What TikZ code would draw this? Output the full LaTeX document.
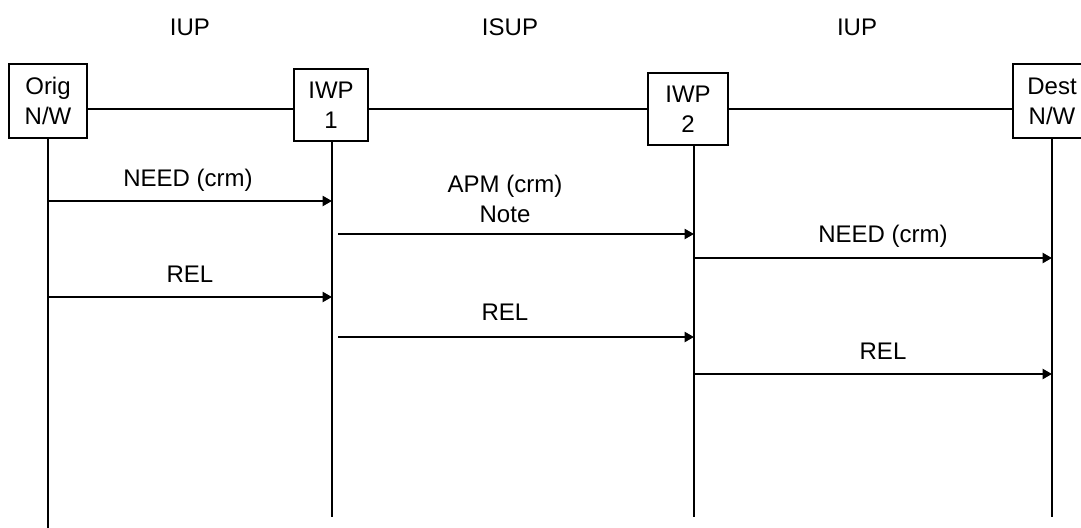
\documentclass[tikz,border=0pt]{standalone}
\usepackage{fontspec}
\setmainfont{Liberation Sans}
\usetikzlibrary{arrows.meta}

\begin{document}
\begin{tikzpicture}[x=0.75pt,y=-0.75pt,>={Triangle[length=7pt,width=7.5pt]},
  font=\fontsize{18}{22.5}\selectfont,line width=1.5pt,
  box/.style={draw,fill=white,align=center,inner sep=0pt},
  lbl/.style={anchor=base}]
\clip (0,0) rectangle (1081,528);
% protocol names
\node[lbl] (p1) at (190,36) {IUP};
\node[lbl] (p2) at (510,36) {ISUP};
\node[lbl] (p3) at (857,36) {IUP};
% entities
\node[box,minimum width=58.5pt,minimum height=55.5pt] (orig) at (48,101) {Orig\\N/W};
\node[box,minimum width=55.5pt,minimum height=54pt] (iwp1) at (331,105) {IWP\\1};
\node[box,minimum width=60pt,minimum height=54pt] (iwp2) at (688,109) {IWP\\2};
\node[box,minimum width=58.5pt,minimum height=55.5pt] (dest) at (1052,101) {Dest\\N/W};
\coordinate (trunk) at (0,109);
\draw (orig.east |- trunk) -- (iwp1.west |- trunk);
\draw (iwp1.east |- trunk) -- (iwp2.west |- trunk);
\draw (iwp2.east |- trunk) -- (dest.west |- trunk);
% lifelines
\coordinate (e0) at (48,528);
\coordinate (e1) at (332,517);
\coordinate (e2) at (694,517);
\coordinate (e3) at (1052,517);
\draw (orig.south) -- (e0);
\draw (iwp1.south -| e1) -- (e1);
\draw (iwp2.south -| e2) -- (e2);
\draw (dest.south) -- (e3);
% messages
\coordinate (r1) at (0,201);
\coordinate (r2) at (0,234);
\coordinate (r3) at (0,258);
\coordinate (r4) at (0,297);
\coordinate (r5) at (0,337);
\coordinate (r6) at (0,374);
\draw[->] (e0 |- r1) -- (e1 |- r1);
\draw[->,shorten <=4.5pt] (e1 |- r2) -- (e2 |- r2);
\draw[->] (e2 |- r3) -- (e3 |- r3);
\draw[->] (e0 |- r4) -- (e1 |- r4);
\draw[->,shorten <=4.5pt] (e1 |- r5) -- (e2 |- r5);
\draw[->] (e2 |- r6) -- (e3 |- r6);
\node[lbl] (m1) at (188,186) {NEED (crm)};
\node[lbl] (m2) at (505,192) {APM (crm)};
\node[lbl] (m2n) at (505,222) {Note};
\node[lbl] (m3) at (883,242) {NEED (crm)};
\node[lbl] (m4) at (190,282) {REL};
\node[lbl] (m5) at (505,320) {REL};
\node[lbl] (m6) at (883,359) {REL};
\end{tikzpicture}
\end{document}
